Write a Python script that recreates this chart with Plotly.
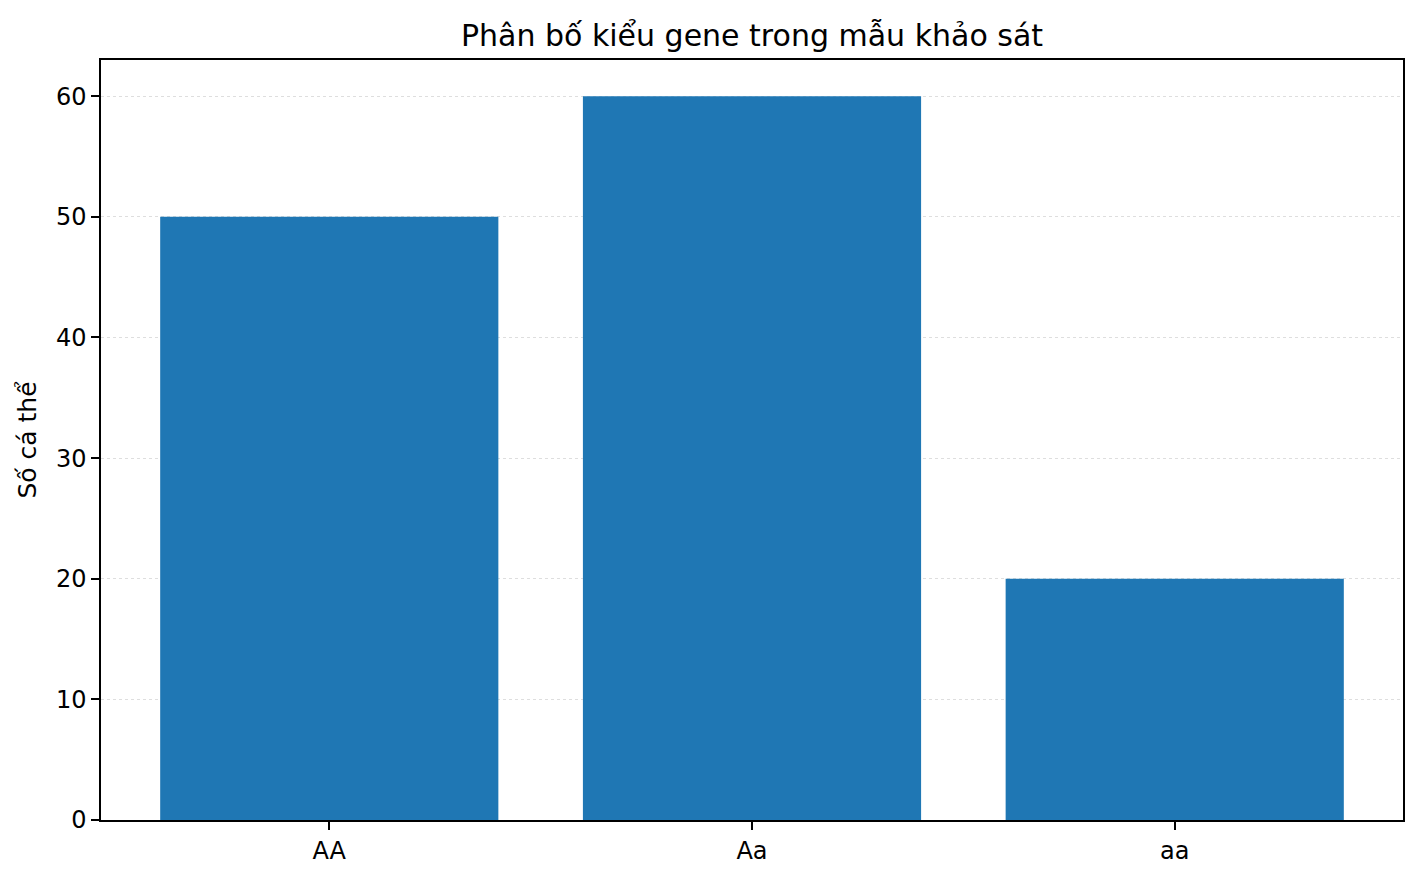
import plotly.graph_objects as go

genotypes = ["AA", "Aa", "aa"]
counts = [50, 60, 20]
y_ticks = [0, 10, 20, 30, 40, 50, 60]

fig = go.Figure()

fig.add_trace(
    go.Bar(
        x=[0, 1, 2],
        y=counts,
        width=0.8,
        marker=dict(color="#1f77b4", line=dict(width=0)),
    )
)

# page body adds an 8px offset, so the figure is a bit smaller than the window
fig.update_layout(
    width=1412,
    height=871,
    paper_bgcolor="white",
    plot_bgcolor="white",
    showlegend=False,
    font=dict(family="DejaVu Sans", size=24, color="black"),
    margin=dict(l=93, r=17, t=52, b=59),
    title=dict(
        text="Phân bố kiểu gene trong mẫu khảo sát",
        x=(752 - 8) / 1412,
        xanchor="center",
        y=1 - 27 / 871,
        yanchor="middle",
        font=dict(size=30),
    ),
    xaxis=dict(
        range=[-0.54, 2.54],
        tickmode="array",
        tickvals=[0, 1, 2],
        ticktext=genotypes,
        ticks="outside",
        ticklen=8,
        tickwidth=1.5,
        tickcolor="black",
        tickfont=dict(size=24),
        showgrid=False,
        showline=True,
        linecolor="black",
        linewidth=1.5,
        mirror=True,
        zeroline=False,
    ),
    yaxis=dict(
        title=dict(text="Số cá thể", standoff=12, font=dict(size=25)),
        range=[0, 63],
        tickmode="array",
        tickvals=y_ticks,
        ticks="outside",
        ticklen=8,
        tickwidth=1.5,
        tickcolor="black",
        tickfont=dict(size=24),
        showgrid=True,
        gridcolor="rgba(0,0,0,0.13)",
        griddash="dot",
        gridwidth=1,
        showline=True,
        linecolor="black",
        linewidth=1.5,
        mirror=True,
        zeroline=False,
    ),
)

fig.write_html("out.html")
